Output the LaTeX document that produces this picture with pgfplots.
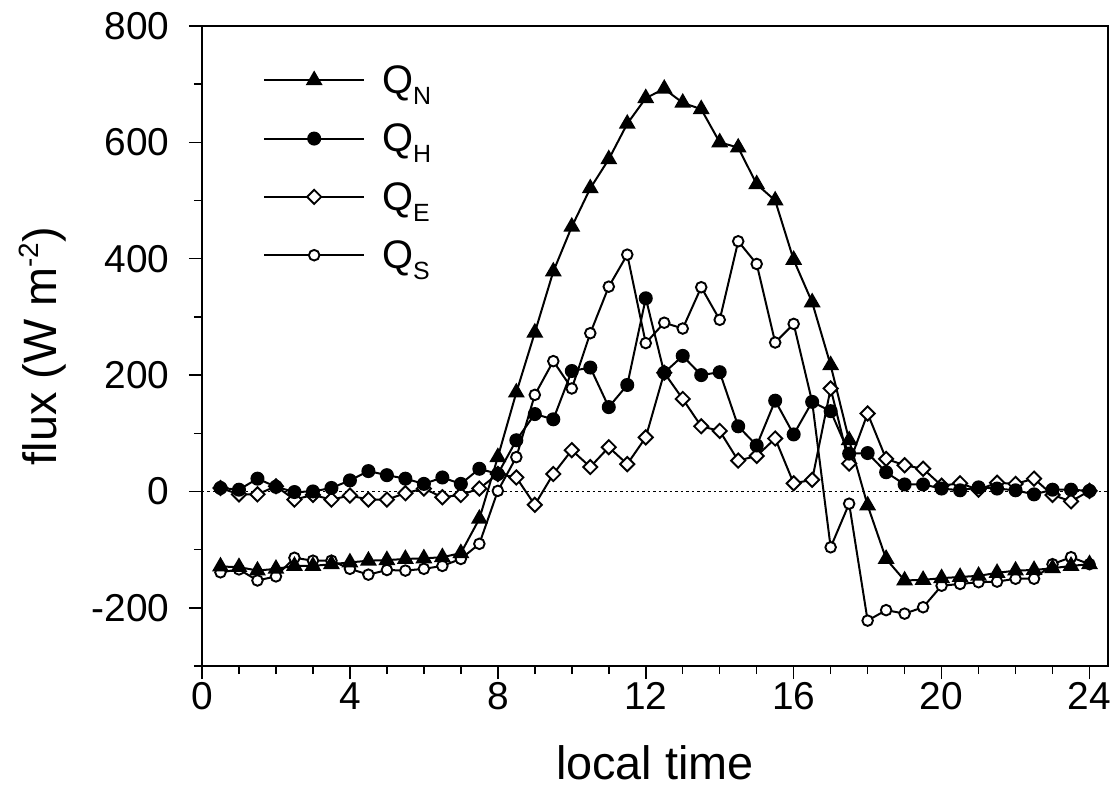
\documentclass[border=0pt]{standalone}
\usepackage{fontspec}
\setmainfont{Liberation Sans}
\usepackage{pgfplots}
\pgfplotsset{compat=1.18}
\usepackage{pgfplotstable}

\pgfplotstableread{
t QN QH QE QS
0.5 -129 6 6 -139
1 -130 3 -5 -134
1.5 -136 22 -5 -153
2 -133 8 9 -146
2.5 -128 -1 -14 -114
3 -128 0 -6 -119
3.5 -125 6 -14 -119
4 -122 19 -7 -133
4.5 -119 35 -14 -143
5 -118 28 -14 -135
5.5 -116 22 -3 -136
6 -115 13 5 -133
6.5 -113 24 -10 -128
7 -106 13 -6 -116
7.5 -47 39 5 -90
8 59 30 30 1
8.5 170 88 24 59
9 273 133 -23 166
9.5 378 124 30 224
10 455 207 71 177
10.5 521 213 42 272
11 571 145 76 352
11.5 632 183 47 407
12 676 332 93 255
12.5 692 204 204 290
13 668 233 159 280
13.5 657 200 112 351
14 600 205 104 295
14.5 591 112 53 430
15 528 79 61 391
15.5 500 156 91 256
16 398 98 14 288
16.5 325 154 20 154
17 217 138 177 -96
17.5 88 65 48 -21
18 -24 66 134 -222
18.5 -116 33 56 -204
19 -153 12 45 -210
19.5 -152 12 39 -199
20 -149 5 10 -162
20.5 -147 2 14 -159
21 -145 7 3 -156
21.5 -140 5 15 -155
22 -136 2 13 -150
22.5 -135 -5 22 -150
23 -132 3 -6 -125
23.5 -128 3 -17 -113
24 -125 1 1 -125
}\fluxdata

\begin{document}
\begin{tikzpicture}
\begin{axis}[
  scale only axis,
  width=906bp, height=640bp,
  xmin=0, xmax=24.5, ymin=-300, ymax=800,
  axis line style={line width=1.8bp},
  tick style={line width=1.5bp, black},
  tick align=outside,
  tick pos=left,
  major tick length=13bp,
  minor tick length=8bp,
  xtick={0,4,8,12,16,20,24},
  xticklabels={0,4,8,12,16,20,24},
  minor xtick={1,2,3,5,6,7,9,10,11,13,14,15,17,18,19,21,22,23},
  ytick={-200,0,200,400,600,800},
  yticklabels={-200,0,200,400,600,800},
  minor ytick={-300,-100,100,300,500,700},
  ticklabel style={font=\fontsize{39}{39}\selectfont},
  yticklabel style={xshift=-16bp},
  xlabel={local time},
  ylabel={flux (W m\raisebox{18bp}{\fontsize{28}{28}\selectfont -2})},
  label style={font=\fontsize{47}{47}\selectfont},
  xlabel style={at={(axis description cs:0.5,-0.1516)}, anchor=center},
  ylabel style={at={(axis description cs:-0.1755,0.5)}, anchor=center, rotate=0},
  clip=false,
  reverse legend,
  legend style={draw=none, fill=none, font=\fontsize{40}{40}\selectfont,
    at={(axis description cs:0.0673,0.94)}, anchor=north west,
    row sep=27bp, column sep=16bp, inner sep=0pt,
    nodes={inner sep=1bp}},
  legend cell align=left,
  legend image code/.code={\draw[mark repeat=2,mark phase=2,#1] plot coordinates {(0bp,0bp) (50bp,0bp) (100bp,0bp)};},
]
\addplot[forget plot, black, line width=1.3bp, dash pattern=on 2.5bp off 3bp] coordinates {(0,0) (24.5,0)};
\addplot[black, line width=2bp, mark=*, mark size=5.3bp, mark options={solid, fill=white, line width=1.9bp}] table[x=t, y=QS] {\fluxdata};
\addlegendentry{Q\raisebox{-11bp}{\fontsize{25}{25}\selectfont S}}
\addplot[black, line width=2bp, mark=square*, mark size=5bp, mark options={solid, fill=white, rotate=45, line width=1.9bp}] table[x=t, y=QE] {\fluxdata};
\addlegendentry{Q\raisebox{-11bp}{\fontsize{25}{25}\selectfont E}}
\addplot[black, line width=2bp, mark=*, mark size=6bp, mark options={solid, fill=black}] table[x=t, y=QH] {\fluxdata};
\addlegendentry{Q\raisebox{-11bp}{\fontsize{25}{25}\selectfont H}}
\addplot[black, line width=2bp, mark=triangle*, mark size=7.8bp, mark options={solid, fill=black}] table[x=t, y=QN] {\fluxdata};
\addlegendentry{Q\raisebox{-11bp}{\fontsize{25}{25}\selectfont N}}
\end{axis}
\path (current axis.south west) ++(-202bp,-131bp) rectangle ++(1119bp,797bp);
\end{tikzpicture}
\end{document}
